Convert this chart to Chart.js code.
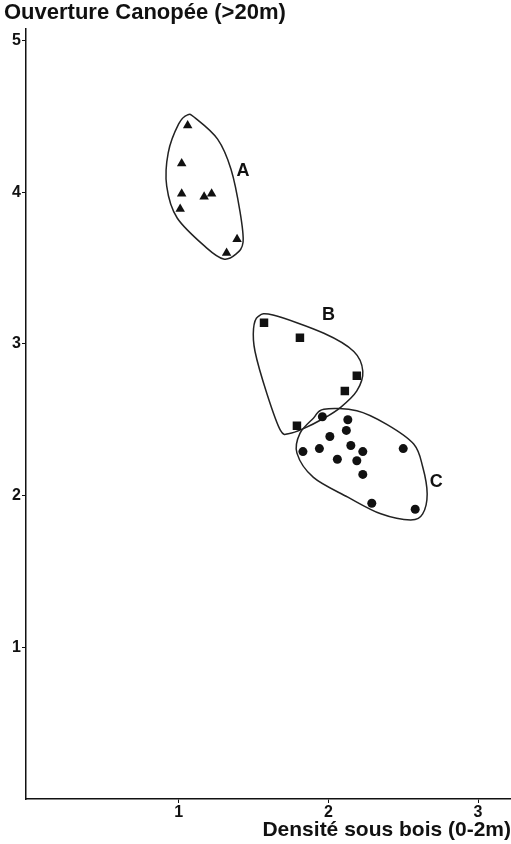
<!DOCTYPE html>
<html>
<head>
<meta charset="utf-8">
<script src="https://cdn.jsdelivr.net/npm/chart.js@4"></script>
<style>
  body { margin: 0; background: #fff; }
</style>
</head>
<body>
<canvas id="chart" width="511" height="844"></canvas>
<script>
// tick labels
const xTicks = [1, 2, 3];
const yTicks = [1, 2, 3, 4, 5];

// group A (triangles), B (squares), C (circles)
const groupA = [
    {x: 1.06, y: 4.44}, {x: 1.02, y: 4.19}, {x: 1.02, y: 3.99}, {x: 1.01, y: 3.89},
    {x: 1.17, y: 3.97}, {x: 1.22, y: 3.99}, {x: 1.39, y: 3.69}, {x: 1.32, y: 3.60}
];
const groupB = [
    {x: 1.57, y: 3.14}, {x: 1.81, y: 3.04}, {x: 2.19, y: 2.79}, {x: 2.11, y: 2.69},
    {x: 1.79, y: 2.46}
];
const groupC = [
    {x: 1.96, y: 2.52}, {x: 2.13, y: 2.50}, {x: 2.12, y: 2.43}, {x: 2.01, y: 2.39},
    {x: 2.15, y: 2.33}, {x: 2.23, y: 2.29}, {x: 2.50, y: 2.31}, {x: 1.83, y: 2.29},
    {x: 1.94, y: 2.31}, {x: 2.06, y: 2.24}, {x: 2.19, y: 2.23}, {x: 2.23, y: 2.14},
    {x: 2.29, y: 1.95}, {x: 2.58, y: 1.91}
];

// hand drawn outlines round each group
const hullA = [
    [1.06, 4.51], [1.11, 4.49], [1.26, 4.35], [1.35, 4.15], [1.41, 3.87], [1.43, 3.67],
    [1.38, 3.59], [1.30, 3.56], [1.19, 3.63], [0.99, 3.83], [0.92, 4.04], [0.93, 4.26],
    [1.00, 4.45]
];
const hullB = [
    [1.53, 3.18], [1.63, 3.19], [1.97, 3.07], [2.17, 2.95], [2.23, 2.82], [2.19, 2.69],
    [2.08, 2.58], [1.97, 2.51], [1.83, 2.44], [1.74, 2.41], [1.68, 2.43], [1.59, 2.67],
    [1.51, 2.95], [1.50, 3.10]
];
const hullC = [
    [1.97, 2.57], [2.19, 2.56], [2.39, 2.47], [2.57, 2.34], [2.63, 2.19], [2.66, 2.01],
    [2.63, 1.88], [2.55, 1.84], [2.35, 1.88], [2.13, 1.99], [1.90, 2.12], [1.79, 2.28],
    [1.81, 2.41], [1.90, 2.51]
];
const groupNames = ['A', 'B', 'C'];
const groupNameX = [1.43, 2.0, 2.72];
const groupNameY = [4.14, 3.19, 2.09];

const hulls = [hullA, hullB, hullC];
const font = '"Liberation Sans", Arial, sans-serif';

const outlinePlugin = {
    id: 'outlines',
    beforeDatasetsDraw(chart) {
        const ctx = chart.ctx;
        const sx = chart.scales.x, sy = chart.scales.y;
        ctx.save();
        ctx.strokeStyle = '#222';
        ctx.lineWidth = 1.5;
        hulls.forEach(h => {
            const p = h.map(q => [sx.getPixelForValue(q[0]), sy.getPixelForValue(q[1])]);
            const n = p.length;
            ctx.beginPath();
            ctx.moveTo(p[0][0], p[0][1]);
            for (let i = 0; i < n; i++) {
                const p0 = p[(i - 1 + n) % n], p1 = p[i], p2 = p[(i + 1) % n], p3 = p[(i + 2) % n];
                ctx.bezierCurveTo(
                    p1[0] + (p2[0] - p0[0]) / 6, p1[1] + (p2[1] - p0[1]) / 6,
                    p2[0] - (p3[0] - p1[0]) / 6, p2[1] - (p3[1] - p1[1]) / 6,
                    p2[0], p2[1]);
            }
            ctx.closePath();
            ctx.stroke();
        });
        ctx.fillStyle = '#111';
        ctx.font = 'bold 18px ' + font;
        ctx.textAlign = 'center';
        ctx.textBaseline = 'middle';
        groupNames.forEach((t, i) => {
            ctx.fillText(t, sx.getPixelForValue(groupNameX[i]), sy.getPixelForValue(groupNameY[i]));
        });
        ctx.restore();
    }
};

new Chart(document.getElementById('chart'), {
    type: 'scatter',
    data: {
        datasets: [
            {label: 'A', data: groupA, pointStyle: 'triangle', pointRadius: 5.5, backgroundColor: '#111', borderColor: '#111', borderWidth: 0},
            {label: 'B', data: groupB, pointStyle: 'rect', pointRadius: 6, backgroundColor: '#111', borderColor: '#111', borderWidth: 0},
            {label: 'C', data: groupC, pointStyle: 'circle', pointRadius: 4.5, backgroundColor: '#111', borderColor: '#111', borderWidth: 0}
        ]
    },
    options: {
        responsive: false,
        animation: false,
        layout: {autoPadding: false, padding: {left: 4, right: 0, top: 0, bottom: 0}},
        plugins: {
            legend: {display: false},
            tooltip: {enabled: false},
            title: {
                display: true,
                text: 'Ouverture Canopée (>20m)',
                align: 'start',
                color: '#111',
                font: {family: font, size: 22, weight: 'bold'},
                padding: {top: 0, bottom: 2}
            }
        },
        scales: {
            x: {
                type: 'linear',
                min: -0.02,
                max: 3.22,
                afterBuildTicks: s => { s.ticks = xTicks.map(v => ({value: v})); },
                afterFit: s => { s.height = 45; },
                grid: {drawOnChartArea: false, drawTicks: true, tickLength: 4, color: '#111'},
                border: {color: '#111', width: 1.5},
                ticks: {color: '#111', padding: 0, font: {family: font, size: 16, weight: 'bold'}},
                title: {
                    display: true,
                    text: 'Densité sous bois (0-2m)',
                    align: 'end',
                    color: '#111',
                    font: {family: font, size: 21, weight: 'bold'},
                    padding: {top: 0, bottom: 1}
                }
            },
            y: {
                type: 'linear',
                min: 0,
                max: 5.08,
                afterBuildTicks: s => { s.ticks = yTicks.map(v => ({value: v})); },
                afterFit: s => { s.width = 22; },
                grid: {drawOnChartArea: false, drawTicks: true, tickLength: 4, color: '#111'},
                border: {color: '#111', width: 1.5},
                ticks: {color: '#111', padding: 1, font: {family: font, size: 16, weight: 'bold'}}
            }
        }
    },
    plugins: [outlinePlugin]
});
</script>
</body>
</html>
